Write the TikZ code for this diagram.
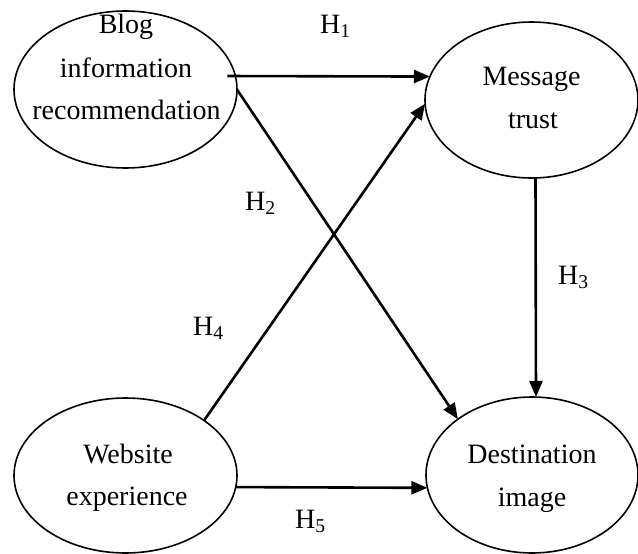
\documentclass[tikz,border=0pt]{standalone}
\usepackage{fontspec}
\setmainfont{Liberation Serif}
\usetikzlibrary{shapes.geometric,arrows.meta}
\begin{document}
\begin{tikzpicture}[x=1pt,y=-1pt,
  oval/.style={ellipse,draw,line width=1.6pt,inner sep=0pt,outer sep=0pt},
  txt/.style={anchor=base,inner sep=0pt,font=\fontsize{28}{34}\selectfont},
  lbl/.style={anchor=base west,inner sep=0pt,font=\fontsize{28}{34}\selectfont},
  arr/.style={line width=2.6pt,-{Triangle[length=16pt,width=13pt]}}]
\useasboundingbox (0,0) rectangle (638,554);
\node[oval,minimum width=223pt,minimum height=157pt] (blog) at (125.5,89.5) {};
\node[oval,minimum width=213pt,minimum height=156pt] (msg) at (531.5,100) {};
\node[oval,minimum width=223pt,minimum height=155pt] (web) at (125.5,475.5) {};
\node[oval,minimum width=212pt,minimum height=156pt] (dest) at (532,475) {};
% texts
\node[txt] (b1) at (126,34) {Blog};
\node[txt] (b2) at (126,77.5) {information};
\node[txt] (b3) at (126.5,119) {recommendation};
\node[txt] (m1) at (531.5,85) {Message};
\node[txt] (m2) at (533,128) {trust};
\node[txt] (w1) at (128,463) {Website};
\node[txt] (w2) at (127,505.5) {experience};
\node[txt] (d1) at (532,463) {Destination};
\node[txt] (d2) at (532,506) {image};
% labels
\node[lbl] (h1) at (320,33) {H\textsubscript{1}};
\node[lbl] (h2) at (245,210) {H\textsubscript{2}};
\node[lbl] (h3) at (558,284) {H\textsubscript{3}};
\node[lbl] (h4) at (193,335) {H\textsubscript{4}};
\node[lbl] (h5) at (295,528) {H\textsubscript{5}};
% connectors
\draw[arr] ([xshift=-8pt]blog.7) -- (msg.167);
\draw[arr] (blog.east) -- (dest.143);
\draw[arr] ([xshift=4pt]msg.south) -- ([xshift=4pt]dest.north);
\draw[arr] (web.35) -- (msg.182);
\draw[arr] (web.-6) -- (dest.187);
\end{tikzpicture}
\end{document}
